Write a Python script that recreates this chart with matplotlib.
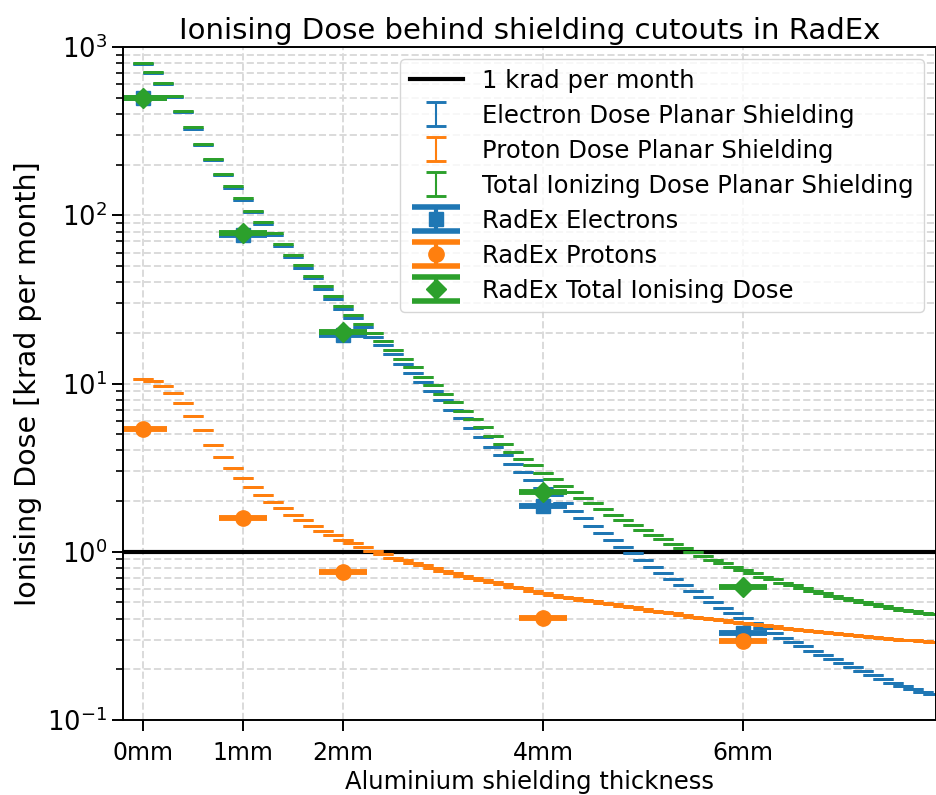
import numpy as np
import matplotlib
matplotlib.use("Agg")
import matplotlib.pyplot as plt

plt.rcParams['font.family'] = ['DejaVu Sans']

# Aluminium thickness grid for the planar-shielding model [mm]
thickness = np.round(np.arange(0.0, 8.0, 0.1), 1)

# Planar shielding dose per month [krad]
electron_dose = [
    789, 703, 604, 502, 409, 327, 261, 213, 173, 146,
    123, 104, 88.6, 76.1, 65.7, 56.3, 48.9, 42.1, 36.6, 31.9,
    27.8, 24.4, 21.6, 19.0, 16.9, 14.9, 13.1, 11.6, 10.2, 9.0,
    7.95, 7.0, 6.2, 5.45, 4.8, 4.21, 3.74, 3.32, 2.98, 2.67,
    2.39, 2.17, 1.95, 1.75, 1.58, 1.43, 1.30, 1.18, 1.07, 0.984,
    0.894, 0.815, 0.750, 0.688, 0.634, 0.586, 0.540, 0.501, 0.465, 0.434,
    0.404, 0.377, 0.351, 0.327, 0.308, 0.291, 0.274, 0.256, 0.242, 0.229,
    0.217, 0.206, 0.195, 0.185, 0.176, 0.167, 0.160, 0.153, 0.147, 0.142,
]
proton_dose = [
    10.6, 10.3, 9.7, 8.78, 7.63, 6.44, 5.27, 4.33, 3.64, 3.16,
    2.76, 2.44, 2.18, 1.98, 1.82, 1.66, 1.54, 1.43, 1.33, 1.25,
    1.18, 1.12, 1.06, 1.01, 0.966, 0.922, 0.893, 0.86, 0.83, 0.80,
    0.77, 0.745, 0.72, 0.70, 0.68, 0.66, 0.64, 0.62, 0.605, 0.585,
    0.565, 0.553, 0.540, 0.528, 0.517, 0.507, 0.497, 0.487, 0.477, 0.467,
    0.455, 0.447, 0.438, 0.430, 0.421, 0.412, 0.405, 0.398, 0.391, 0.384,
    0.378, 0.372, 0.366, 0.360, 0.354, 0.348, 0.343, 0.338, 0.333, 0.328,
    0.323, 0.319, 0.315, 0.311, 0.307, 0.303, 0.300, 0.297, 0.294, 0.290,
]
total_dose = [
    800, 713, 614, 511, 417, 333, 266, 217, 177, 149,
    126, 106, 90.8, 78.1, 67.5, 58.0, 50.4, 43.5, 37.9, 33.1,
    29.0, 25.5, 22.6, 20.0, 17.9, 15.8, 14.0, 12.5, 11.0, 9.8,
    8.7, 7.75, 6.9, 6.15, 5.5, 4.87, 4.37, 3.92, 3.57, 3.26,
    2.95, 2.70, 2.47, 2.28, 2.10, 1.94, 1.79, 1.66, 1.54, 1.44,
    1.34, 1.25, 1.19, 1.11, 1.05, 0.995, 0.944, 0.894, 0.853, 0.814,
    0.778, 0.744, 0.711, 0.686, 0.655, 0.632, 0.607, 0.587, 0.566, 0.548,
    0.531, 0.516, 0.503, 0.489, 0.478, 0.465, 0.453, 0.443, 0.434, 0.426,
]

# RadEx shielding cutouts
radex_thickness = [0, 1, 2, 4, 6]
radex_electrons = [495, 76.5, 19.5, 1.88, 0.33]
radex_protons = [5.36, 1.58, 0.76, 0.405, 0.295]
radex_total = [500, 78.1, 20.3, 2.27, 0.62]

tick_positions = [0, 1, 2, 4, 6]
tick_labels = ['0mm', '1mm', '2mm', '4mm', '6mm']

W, H = 937, 795
fig = plt.figure(figsize=(W / 100, H / 100), dpi=100)
ax = fig.add_axes([123 / W, 1 - 720 / H, (936 - 123) / W, (720 - 47) / H])

ax.axhline(1.0, color='black', lw=3, label='1 krad per month')

planar = [
    (electron_dose, 'C0', 'Electron Dose Planar Shielding'),
    (proton_dose, 'C1', 'Proton Dose Planar Shielding'),
    (total_dose, 'C2', 'Total Ionizing Dose Planar Shielding'),
]
for values, color, label in planar:
    ax.errorbar(thickness, values, yerr=np.zeros(len(values)), fmt='none',
                ecolor=color, elinewidth=1.5, capsize=7.2, capthick=2.1,
                label=label)

radex = [
    (radex_electrons, 'C0', 's', 10, 'RadEx Electrons'),
    (radex_protons, 'C1', 'o', 11, 'RadEx Protons'),
    (radex_total, 'C2', 'D', 10, 'RadEx Total Ionising Dose'),
]
for values, color, marker, ms, label in radex:
    ax.errorbar(radex_thickness, values, yerr=np.zeros(len(values)),
                fmt=marker, color=color, ms=ms, elinewidth=3,
                capsize=17.3, capthick=4, label=label)

ax.set_yscale('log')
ax.set_ylim(0.1, 1000)
ax.set_xlim(-0.2, 7.93)
ax.set_xticks(tick_positions, labels=tick_labels)

ax.grid(True, which='both', ls='--', color='0.86', lw=1.4)
ax.set_axisbelow(True)
for s in ax.spines.values():
    s.set_linewidth(1.4)
ax.tick_params(which='major', length=8, width=1.4)
ax.tick_params(which='minor', length=5, width=1.2)
ax.tick_params(axis='x', labelsize=17, pad=7)
ax.tick_params(axis='y', labelsize=18.5)

ax.set_title('Ionising Dose behind shielding cutouts in RadEx', fontsize=21)
ax.set_xlabel('Aluminium shielding thickness', fontsize=17.5)
ax.set_ylabel('Ionising Dose [krad per month]', fontsize=20.5)

ax.legend(loc='upper right', fontsize=17.5, labelspacing=0.45,
          handlelength=2.2)

fig.savefig('out.png', dpi=100)
